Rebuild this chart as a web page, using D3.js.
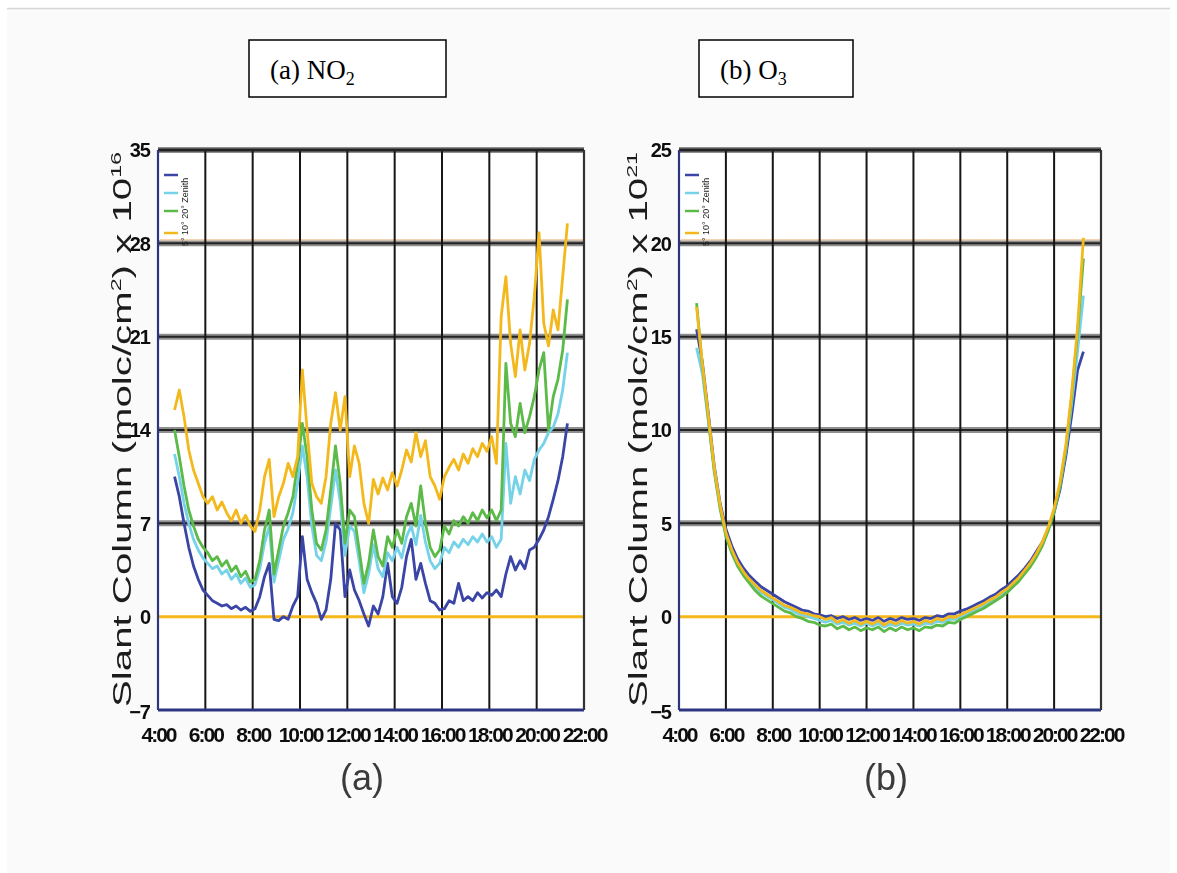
<!DOCTYPE html>
<html>
<head>
<meta charset="utf-8">
<script src="https://cdn.jsdelivr.net/npm/d3@7"></script>
<style>
  html, body { margin: 0; padding: 0; background: #ffffff; }
  svg { display: block; }
</style>
</head>
<body>
<svg id="chart" width="1177" height="873"></svg>
<script>
// ---- shared axis data ----
const timeTicks = [4, 6, 8, 10, 12, 14, 16, 18, 20, 22];
const timeTickLabels = ["4:00", "6:00", "8:00", "10:00", "12:00", "14:00", "16:00", "18:00", "20:00", "22:00"];
const seriesNames = ["Zenith", "20°", "10°", "5°"];
const seriesColors = ["#3a44a6", "#74d2e8", "#5cba48", "#f3b91d"];

// ---- NO2 slant columns (x 10^16 molc/cm2), sampled every 0.2 h from 4.7 h ----
const no2Ticks = [-7, 0, 7, 14, 21, 28, 35];
const no2Start = 4.7, no2Step = 0.2;
const no2Zenith = [
  10.5, 9.0, 7.0, 5.2, 3.8, 2.8, 2.0, 1.6, 1.2, 1.0,
  0.8, 0.9, 0.6, 0.8, 0.5, 0.7, 0.4, 0.6, 1.5, 3.0,
  4.0, -0.2, -0.3, 0.0, -0.2, 0.8, 1.5, 6.0, 2.8, 1.8,
  1.0, -0.2, 0.5, 2.8, 7.0, 6.5, 1.5, 3.5, 2.0, 1.2,
  0.2, -0.7, 0.8, 0.2, 1.5, 4.0, 1.5, 1.0, 2.2, 4.5,
  5.8, 2.8, 4.0, 2.5, 1.2, 1.0, 0.5, 0.6, 1.2, 1.0,
  2.5, 1.2, 1.5, 1.2, 1.8, 1.4, 1.8, 1.6, 2.0, 1.5,
  3.2, 4.5, 3.5, 4.2, 3.6, 5.0, 5.2, 5.8, 6.5, 7.5,
  8.8, 10.2, 12.0, 14.5
];
const no2Deg20 = [
  12.2, 10.5, 8.5, 7.0, 5.8, 5.0, 4.4, 4.0, 3.6, 3.8,
  3.2, 3.5, 2.8, 3.2, 2.5, 2.9, 2.2, 2.4, 3.6, 5.5,
  6.8, 2.6, 4.2, 5.8, 6.6, 7.8, 10.0, 12.8, 10.5, 6.8,
  4.6, 4.2, 5.6, 8.2, 11.0, 8.6, 4.6, 6.8, 6.4, 4.2,
  1.8, 3.2, 5.4, 3.6, 3.0, 4.8, 4.2, 5.2, 4.4, 6.0,
  6.8, 5.4, 7.6, 5.6, 4.2, 3.6, 4.0, 5.2, 4.8, 5.6,
  5.2, 5.8, 5.4, 6.0, 5.6, 6.2, 5.6, 6.0, 5.2, 5.8,
  13.0, 8.5, 10.5, 9.2, 11.0, 10.2, 11.8, 12.5, 13.0, 13.8,
  14.2, 15.2, 17.0, 19.8
];
const no2Deg10 = [
  14.0, 12.0, 9.8, 8.0, 6.8, 5.8, 5.2, 4.8, 4.2, 4.5,
  3.8, 4.2, 3.4, 3.8, 3.0, 3.4, 2.6, 2.8, 4.2, 6.5,
  8.0, 3.2, 5.0, 6.8, 7.8, 9.0, 11.5, 14.5, 12.0, 8.0,
  5.5, 5.0, 6.5, 9.5, 12.8, 10.0, 5.5, 8.0, 7.5, 5.0,
  2.5, 4.0, 6.5, 4.5, 3.8, 6.0, 5.2, 6.5, 5.5, 7.5,
  8.5, 6.8, 9.8, 7.0, 5.2, 4.5, 5.0, 6.8, 6.2, 7.2,
  6.8, 7.5, 7.0, 7.8, 7.2, 8.0, 7.4, 8.0, 7.2, 8.0,
  19.0, 14.5, 13.5, 16.0, 13.8, 15.0, 16.5, 18.5, 19.8, 14.0,
  16.5, 17.8, 20.0, 23.8
];
const no2Deg5 = [
  15.5, 17.0, 15.0, 12.5, 11.0, 10.0, 9.0, 8.5, 9.0, 8.0,
  8.6, 7.8, 7.2, 8.0, 7.0, 7.6, 6.8, 6.4, 8.0, 10.5,
  11.8, 7.5, 9.0, 10.0, 11.5, 10.5, 12.0, 18.5, 14.0, 10.0,
  9.0, 8.5, 10.5, 14.5, 16.8, 14.0, 16.5, 10.5, 12.8, 11.5,
  8.5, 7.0, 10.3, 9.2, 10.4, 9.5, 10.8, 9.8, 11.0, 12.5,
  11.6, 13.8, 12.0, 13.2, 10.5, 9.8, 8.8, 10.5, 11.2, 11.8,
  11.0, 12.2, 11.5, 12.6, 12.0, 13.0, 12.4, 13.5, 11.5, 22.5,
  25.5, 20.5, 18.0, 21.5, 18.5, 20.5, 24.0, 28.8, 22.0, 20.3,
  23.0, 21.5, 25.5, 29.5
];

// ---- O3 slant columns (x 10^21 molc/cm2), sampled every 0.25 h from 4.75 h ----
const o3Ticks = [-5, 0, 5, 10, 15, 20, 25];
const o3Start = 4.75, o3Step = 0.25;
const o3Zenith = [
  15.4, 13.6, 10.9, 8.1, 6.1, 4.7, 3.8, 3.1, 2.6, 2.2,
  1.9, 1.6, 1.4, 1.2, 1.0, 0.8, 0.65, 0.5, 0.35, 0.3,
  0.15, 0.1, 0.0, 0.05, -0.1, 0.0, -0.15, -0.05, -0.2, -0.1,
  -0.2, -0.05, -0.25, -0.1, -0.2, -0.05, -0.15, -0.1, -0.2, -0.05,
  -0.1, 0.05, 0.0, 0.15, 0.15, 0.3, 0.4, 0.55, 0.7, 0.85,
  1.05, 1.2, 1.45, 1.65, 1.95, 2.25, 2.6, 3.0, 3.5, 4.0,
  4.7, 5.6, 6.8, 8.6, 10.8, 13.2, 14.2
];
const o3Deg20 = [
  14.4, 13.0, 10.5, 7.9, 5.9, 4.4, 3.5, 2.8, 2.3, 1.9,
  1.6, 1.3, 1.1, 0.9, 0.7, 0.5, 0.4, 0.2, 0.1, 0.0,
  -0.1, -0.2, -0.3, -0.2, -0.4, -0.3, -0.45, -0.35, -0.5, -0.35,
  -0.5, -0.35, -0.55, -0.4, -0.5, -0.35, -0.45, -0.4, -0.5, -0.35,
  -0.4, -0.25, -0.3, -0.15, -0.15, 0.0, 0.15, 0.3, 0.45, 0.6,
  0.8, 0.95, 1.2, 1.4, 1.7, 2.0, 2.4, 2.8, 3.3, 3.9,
  4.7, 5.7, 7.0, 8.9, 11.4, 14.2, 17.2
];
const o3Deg10 = [
  16.8, 13.4, 10.6, 7.8, 5.8, 4.3, 3.4, 2.7, 2.2, 1.8,
  1.4, 1.1, 0.9, 0.7, 0.5, 0.3, 0.2, 0.0, -0.1, -0.25,
  -0.3, -0.45, -0.5, -0.4, -0.65, -0.5, -0.7, -0.55, -0.75, -0.6,
  -0.7, -0.55, -0.8, -0.6, -0.75, -0.55, -0.7, -0.6, -0.75, -0.55,
  -0.6, -0.45, -0.5, -0.3, -0.35, -0.15, 0.0, 0.15, 0.3, 0.45,
  0.65, 0.85, 1.05, 1.3, 1.6, 1.9, 2.3, 2.7, 3.2, 3.8,
  4.6, 5.6, 7.0, 9.0, 11.8, 15.2, 19.2
];
const o3Deg5 = [
  16.6, 13.5, 10.8, 8.0, 6.0, 4.5, 3.6, 2.9, 2.4, 2.0,
  1.7, 1.4, 1.2, 1.0, 0.8, 0.6, 0.5, 0.35, 0.2, 0.15,
  0.05, 0.0, -0.15, -0.05, -0.3, -0.15, -0.35, -0.2, -0.4, -0.25,
  -0.4, -0.2, -0.45, -0.25, -0.4, -0.2, -0.35, -0.25, -0.4, -0.2,
  -0.3, -0.1, -0.2, 0.0, -0.05, 0.1, 0.25, 0.4, 0.55, 0.7,
  0.9, 1.05, 1.3, 1.5, 1.8, 2.1, 2.5, 2.9, 3.4, 4.0,
  4.8, 5.8, 7.2, 9.2, 12.0, 15.5, 20.3
];

const panels = [
  {
    key: "a", title: "(a) NO", titleSub: "2", exponent: "16", caption: "(a)",
    yDomain: [-7, 35], yTicks: no2Ticks, refLine: 28,
    start: no2Start, step: no2Step,
    series: [no2Zenith, no2Deg20, no2Deg10, no2Deg5],
    xRange: [158, 584],
    box: { x: 249, y: 40, w: 197, h: 57 },
    captionX: 362, titleGap: 27
  },
  {
    key: "b", title: "(b) O", titleSub: "3", exponent: "21", caption: "(b)",
    yDomain: [-5, 25], yTicks: o3Ticks, refLine: 20,
    start: o3Start, step: o3Step,
    series: [o3Zenith, o3Deg20, o3Deg10, o3Deg5],
    xRange: [679, 1101],
    box: { x: 699, y: 40, w: 154, h: 57 },
    captionX: 886, titleGap: 32
  }
];

const svg = d3.select("#chart");

// page sheet
svg.append("rect").attr("x", 7).attr("y", 8).attr("width", 1163).attr("height", 865)
  .attr("fill", "#fafafa");
svg.append("line").attr("x1", 7).attr("x2", 1170).attr("y1", 8.5).attr("y2", 8.5)
  .attr("stroke", "#d6d6d6").attr("stroke-width", 1.5);

// soft look of the figure body
const defs = svg.append("defs");
defs.append("filter").attr("id", "soft")
  .attr("filterUnits", "userSpaceOnUse")
  .attr("x", 0).attr("y", 100).attr("width", 1177).attr("height", 760)
  .append("feGaussianBlur").attr("stdDeviation", 0.65);

const plotTop = 150, plotBottom = 710;

panels.forEach(p => {
  const x = d3.scaleLinear().domain([4, 22]).range(p.xRange);
  const y = d3.scaleLinear().domain(p.yDomain).range([plotBottom, plotTop]);
  const [x0, x1] = p.xRange;

  // heading box
  const hb = svg.append("g");
  hb.append("rect").attr("x", p.box.x).attr("y", p.box.y)
    .attr("width", p.box.w).attr("height", p.box.h)
    .attr("fill", "#ffffff").attr("stroke", "#000").attr("stroke-width", 1.5);
  const ht = hb.append("text").attr("x", p.box.x + 21).attr("y", p.box.y + 39)
    .attr("font-family", "'Liberation Serif', 'Times New Roman', serif")
    .attr("font-size", 27).attr("fill", "#000");
  ht.append("tspan").text(p.title);
  ht.append("tspan").attr("font-size", 18).attr("dy", 6).text(p.titleSub);

  const g = svg.append("g").attr("filter", "url(#soft)");

  // plot background
  g.append("rect").attr("x", x0).attr("y", plotTop)
    .attr("width", x1 - x0).attr("height", plotBottom - plotTop).attr("fill", "#ffffff");

  // horizontal grid lines (broad grey band with dark core)
  const inner = p.yTicks.filter(v => v !== p.yDomain[0] && v !== 0);
  g.selectAll(".hband").data(inner).join("line")
    .attr("x1", x0).attr("x2", x1).attr("y1", d => y(d)).attr("y2", d => y(d))
    .attr("stroke", "#8f8f8f").attr("stroke-width", 6);
  g.selectAll(".hcore").data(inner).join("line")
    .attr("x1", x0).attr("x2", x1).attr("y1", d => y(d)).attr("y2", d => y(d))
    .attr("stroke", "#222").attr("stroke-width", 2);

  // pale reference line along the upper grid line
  g.append("line").attr("x1", x0 + 2).attr("x2", x1).attr("y1", y(p.refLine) - 3.5).attr("y2", y(p.refLine) - 3.5)
    .attr("stroke", "#f6d3b0").attr("stroke-width", 1.5);

  // vertical grid lines
  g.selectAll(".vgrid").data(timeTicks.slice(1, -1)).join("line")
    .attr("x1", d => x(d)).attr("x2", d => x(d)).attr("y1", plotTop).attr("y2", plotBottom)
    .attr("stroke", "#151515").attr("stroke-width", 2);

  // zero line
  g.append("line").attr("x1", x0).attr("x2", x1).attr("y1", y(0)).attr("y2", y(0))
    .attr("stroke", "#f4b81a").attr("stroke-width", 3);

  // series
  const line = d3.line()
    .x((d, i) => x(p.start + i * p.step))
    .y(d => y(d));
  p.series.forEach((vals, k) => {
    g.append("path").datum(vals).attr("d", line)
      .attr("fill", "none").attr("stroke", seriesColors[k])
      .attr("stroke-width", 2.8).attr("stroke-linejoin", "round");
  });

  // frame: dark top/right, navy left/bottom
  g.append("line").attr("x1", x0).attr("x2", x1).attr("y1", plotTop).attr("y2", plotTop)
    .attr("stroke", "#222").attr("stroke-width", 3);
  g.append("line").attr("x1", x1).attr("x2", x1).attr("y1", plotTop).attr("y2", plotBottom)
    .attr("stroke", "#333").attr("stroke-width", 2.2);
  g.append("line").attr("x1", x0).attr("x2", x0).attr("y1", plotTop).attr("y2", plotBottom)
    .attr("stroke", "#2f3680").attr("stroke-width", 2.2);
  g.append("line").attr("x1", x0).attr("x2", x1).attr("y1", plotBottom).attr("y2", plotBottom)
    .attr("stroke", "#2f3680").attr("stroke-width", 2.8);

  // legend
  const leg = g.append("g");
  const legY = [175, 193, 211, 233];
  seriesNames.forEach((name, k) => {
    leg.append("line").attr("x1", x0 + 6).attr("x2", x0 + 20)
      .attr("y1", legY[k]).attr("y2", legY[k])
      .attr("stroke", seriesColors[k]).attr("stroke-width", 2.5);
  });
  leg.append("text")
    .attr("transform", `translate(${x0 + 30},246) rotate(-90)`)
    .attr("font-family", "'Liberation Sans Narrow', 'Liberation Sans', sans-serif")
    .attr("font-size", 9).attr("fill", "#222")
    .text(seriesNames.slice().reverse().join("  "));

  // y tick labels
  const yAxis = d3.axisLeft(y).tickValues(p.yTicks).tickSize(0).tickPadding(8).tickFormat(d3.format("d"));
  const ya = g.append("g").attr("transform", `translate(${x0},0)`).call(yAxis);
  ya.select(".domain").remove();
  ya.selectAll("text")
    .attr("font-family", "'Liberation Sans Narrow', 'Liberation Sans', sans-serif")
    .attr("font-weight", "bold").attr("font-size", 20).attr("fill", "#111")
    .attr("letter-spacing", "-1px")
    .attr("dy", d => d === p.yDomain[0] ? "0.4em" : "0.34em");

  // x tick labels
  const xAxis = d3.axisBottom(x).tickValues(timeTicks).tickSize(0).tickPadding(17)
    .tickFormat((d, i) => timeTickLabels[i]);
  const xa = g.append("g").attr("transform", `translate(0,${plotBottom})`).call(xAxis);
  xa.select(".domain").remove();
  xa.selectAll("text")
    .attr("font-family", "'Liberation Sans Narrow', 'Liberation Sans', sans-serif")
    .attr("font-weight", "bold").attr("font-size", 21).attr("fill", "#111")
    .attr("letter-spacing", "-2px");

  // y title
  const yt = g.append("text")
    .attr("transform", `translate(${x0 - p.titleGap},707) rotate(-90)`)
    .attr("font-family", "'Liberation Sans', Arial, sans-serif")
    .attr("font-size", 26).attr("fill", "#1e1e1e")
    .attr("textLength", 555).attr("lengthAdjust", "spacingAndGlyphs");
  yt.append("tspan").text("Slant Column (molc/cm");
  yt.append("tspan").attr("font-size", 15).attr("dy", -10).text("2");
  yt.append("tspan").attr("dy", 10).text(") x 10");
  yt.append("tspan").attr("font-size", 15).attr("dy", -10).text(p.exponent);

  // panel caption
  g.append("text").attr("x", p.captionX).attr("y", 790).attr("text-anchor", "middle")
    .attr("font-family", "'Liberation Sans Narrow', 'Liberation Sans', sans-serif")
    .attr("font-size", 36).attr("fill", "#3a3a3a").text(p.caption);
});
</script>
</body>
</html>
